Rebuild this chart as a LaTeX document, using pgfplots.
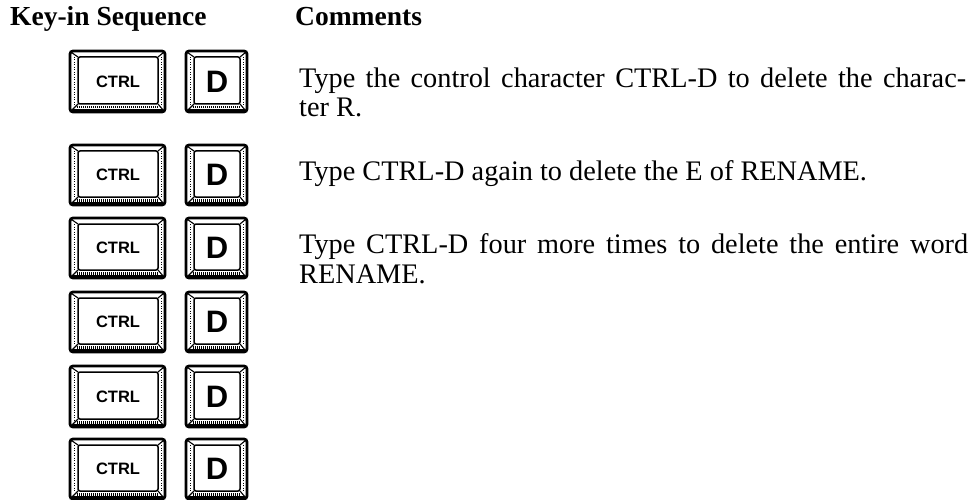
\documentclass[border=0pt]{standalone}
\usepackage{fontspec}
\setmainfont{Liberation Serif}
\setsansfont{Liberation Sans}
\usepackage{pgfplots}
\pgfplotsset{compat=1.18}
% #1 x1, #2 y1 (top), #3 x2, #4 y2 (bottom), #5 label, #6 cx, #7 cy
\newcommand{\keycap}[7]{%
 \draw[line width=2.8pt, rounded corners=3pt] (axis cs:#1,#2) rectangle (axis cs:#3,#4);
 \draw[line width=3pt] ([shift={(2pt,1.2pt)}]axis cs:#1,#4) -- ([shift={(-2pt,1.2pt)}]axis cs:#3,#4);
 \draw[line width=1.5pt, rounded corners=2pt] ([shift={(8pt,-6pt)}]axis cs:#1,#2) rectangle ([shift={(-7pt,8pt)}]axis cs:#3,#4);
 \draw[line width=1.1pt] ([shift={(1.5pt,-1.5pt)}]axis cs:#1,#2) -- ([shift={(8pt,-6pt)}]axis cs:#1,#2);
 \draw[line width=1.1pt] ([shift={(-1.5pt,-1.5pt)}]axis cs:#3,#2) -- ([shift={(-7pt,-6pt)}]axis cs:#3,#2);
 \draw[line width=1.1pt] ([shift={(1.5pt,1.5pt)}]axis cs:#1,#4) -- ([shift={(8pt,8pt)}]axis cs:#1,#4);
 \draw[line width=1.1pt] ([shift={(-1.5pt,1.5pt)}]axis cs:#3,#4) -- ([shift={(-7pt,8pt)}]axis cs:#3,#4);
 \draw[line width=2.2pt, dash pattern=on 1pt off 1pt] ([shift={(7pt,4.6pt)}]axis cs:#1,#4) -- ([shift={(-7pt,4.6pt)}]axis cs:#3,#4);
 \draw[line width=0.9pt, dash pattern=on 1pt off 1.5pt] ([shift={(4pt,-6pt)}]axis cs:#1,#2) -- ([shift={(4pt,7pt)}]axis cs:#1,#4);
 \draw[line width=0.9pt, dash pattern=on 1pt off 1.5pt] ([shift={(-3.7pt,-6pt)}]axis cs:#3,#2) -- ([shift={(-3.7pt,7pt)}]axis cs:#3,#4);
 \node[inner sep=0pt, anchor=center] at (axis cs:#6,#7) {#5};
}
\newcommand{\ctrllabel}{\fontsize{16.5}{16.5}\selectfont\sffamily\bfseries CTRL}
\newcommand{\dlabel}{\fontsize{31}{31}\selectfont\sffamily\bfseries D}
\newcommand{\keyrow}[3]{%
 \keycap{70}{#1}{165}{#2}{\ctrllabel}{118}{#3}%
 \keycap{186}{#1}{247}{#2}{\dlabel}{217}{#3}%
}
\begin{document}
\begin{tikzpicture}
\begin{axis}[
  width=972pt, height=500pt, scale only axis,
  xmin=0, xmax=972, ymin=0, ymax=500, y dir=reverse,
  hide axis, clip=false]
 \node[anchor=base west, inner sep=0pt, font=\bfseries\fontsize{27.5}{29}\selectfont] at (axis cs:10,26) {Key-in Sequence};
 \node[anchor=base west, inner sep=0pt, font=\bfseries\fontsize{27.5}{29}\selectfont] at (axis cs:295,26) {Comments};
 \keyrow{51}{112}{81.5}
 \keyrow{145}{205}{175}
 \keyrow{218}{278}{248}
 \keyrow{292}{352}{322}
 \keyrow{366}{427}{396.5}
 \keyrow{439}{499}{469}
 \node[anchor=base west, inner sep=0pt, font=\fontsize{28.3}{29}\selectfont] at (axis cs:299,88) {\makebox[667pt][s]{Type the control character CTRL-D to delete the charac-}};
 \node[anchor=base west, inner sep=0pt, font=\fontsize{28.3}{29}\selectfont] at (axis cs:299,117) {ter R.};
 \node[anchor=base west, inner sep=0pt, font=\fontsize{28.3}{29}\selectfont] at (axis cs:299,180) {Type CTRL-D again to delete the E of RENAME.};
 \node[anchor=base west, inner sep=0pt, font=\fontsize{28.3}{29}\selectfont] at (axis cs:299,253) {\makebox[669pt][s]{Type CTRL-D four more times to delete the entire word}};
 \node[anchor=base west, inner sep=0pt, font=\fontsize{28.3}{29}\selectfont] at (axis cs:299,283) {RENAME.};
\end{axis}
\pgfresetboundingbox
\path (current axis.south west) rectangle (current axis.north east);
\end{tikzpicture}
\end{document}
